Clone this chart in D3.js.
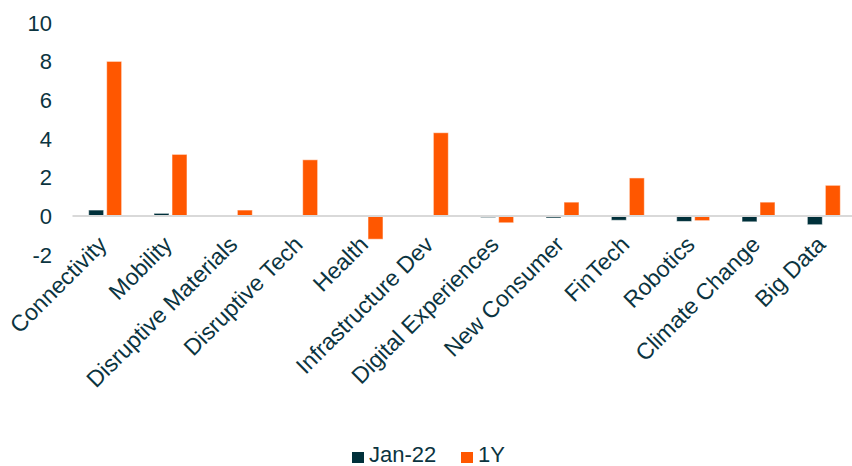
<!DOCTYPE html>
<html lang="en">
<head>
    <meta charset="UTF-8">
    <title>Themes</title>
    <style>
        body { margin: 0; background: #fff; }
        text { font-family: "Liberation Sans", Arial, sans-serif; fill: #0b3440; }
    </style>
</head>
<body>
<script src="https://d3js.org/d3.v7.min.js"></script>
<script>
    let w = 852, h = 466;

    // chart data
    let categories = ["Connectivity", "Mobility", "Disruptive Materials", "Disruptive Tech", "Health",
        "Infrastructure Dev", "Digital Experiences", "New Consumer", "FinTech", "Robotics",
        "Climate Change", "Big Data"];
    let seriesNames = ["Jan-22", "1Y"];
    let jan22 = [0.31, 0.14, 0.02, 0.0, 0.0, -0.03, -0.08, -0.1, -0.22, -0.28, -0.3, -0.45];
    let oneY = [8.0, 3.19, 0.31, 2.91, -1.2, 4.31, -0.35, 0.72, 1.97, -0.24, 0.72, 1.59];
    let yTicks = [-2, 0, 2, 4, 6, 8, 10];
    let colors = ["#00303a", "#ff5700"];

    let svg = d3.select("body")
        .append("svg")
        .attr("width", w)
        .attr("height", h);

    let y = d3.scaleLinear()
        .domain([-2, 10])
        .range([254.7, 22.7]);

    let x = d3.scaleBand()
        .domain(categories)
        .range([72.5, 856.5])
        .padding(0);

    let x1 = d3.scaleBand()
        .domain(seriesNames)
        .range([0, 33])
        .paddingInner(3 / 18)
        .paddingOuter(0);

    // y tick labels
    svg.append("g")
        .selectAll("text")
        .data(yTicks)
        .enter()
        .append("text")
        .attr("x", 52)
        .attr("y", d => y(d))
        .attr("dy", "0.36em")
        .attr("text-anchor", "end")
        .style("font-size", "22px")
        .text(d => d);

    // bars
    let rows = categories.map((c, i) => ({cat: c, vals: [jan22[i], oneY[i]]}));
    let groups = svg.append("g")
        .selectAll("g")
        .data(rows)
        .enter()
        .append("g")
        .attr("transform", d => "translate(" + (x(d.cat) + x.bandwidth() / 2 - 16.5) + ",0)");

    groups.selectAll("rect")
        .data(d => d.vals.map((v, j) => ({s: seriesNames[j], v: v, j: j})))
        .enter()
        .append("rect")
        .attr("x", d => x1(d.s))
        .attr("width", x1.bandwidth())
        .attr("y", d => Math.min(y(d.v), y(0)))
        .attr("height", d => Math.abs(y(d.v) - y(0)))
        .attr("fill", d => colors[d.j])
        .attr("stroke", "rgba(255,255,255,0.55)")
        .attr("stroke-width", 1);

    // zero line
    svg.append("line")
        .attr("x1", 72.5)
        .attr("x2", w)
        .attr("y1", y(0))
        .attr("y2", y(0))
        .attr("stroke", "#d9d9d9")
        .attr("stroke-width", 2);

    // category labels
    svg.append("g")
        .selectAll("text")
        .data(categories)
        .enter()
        .append("text")
        .attr("text-anchor", "end")
        .attr("transform", d => "translate(" + (x(d) + x.bandwidth() / 2 + 3) + ",246) rotate(-45)")
        .style("font-size", "23px")
        .text(d => d);

    // legend
    let legend = svg.append("g");
    let legX = [352, 461];
    seriesNames.forEach((s, i) => {
        legend.append("rect")
            .attr("x", legX[i])
            .attr("y", 452)
            .attr("width", 12)
            .attr("height", 11)
            .attr("fill", colors[i]);
        legend.append("text")
            .attr("x", legX[i] + 17)
            .attr("y", 462)
            .style("font-size", "22px")
            .text(s);
    });
</script>
</body>
</html>
